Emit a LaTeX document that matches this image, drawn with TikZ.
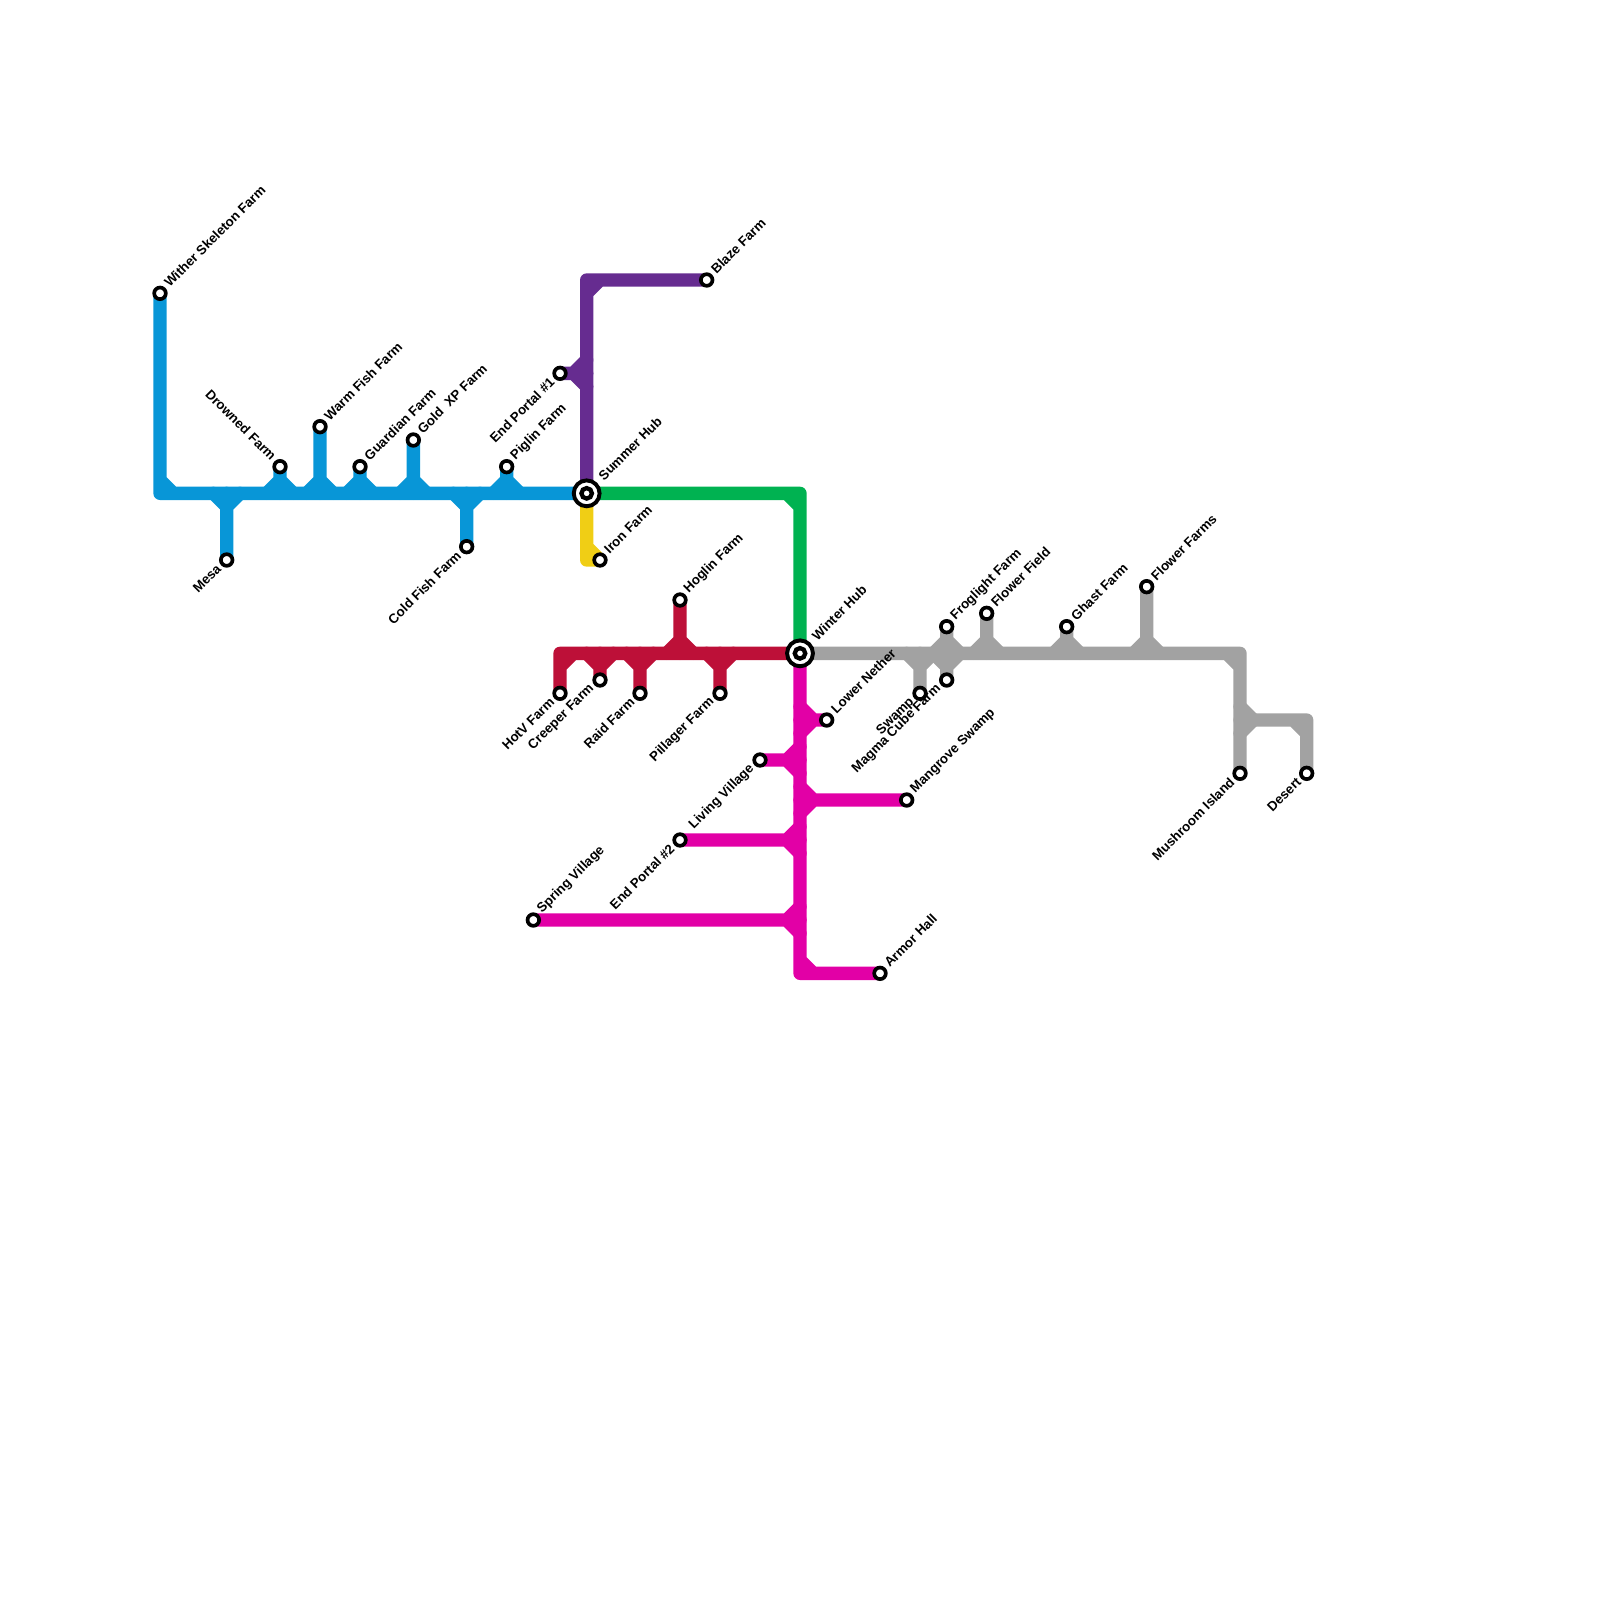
\documentclass[tikz,border=0pt]{standalone}
\usepackage{fontspec}
\setmainfont{Liberation Sans}
\usetikzlibrary{positioning, calc, backgrounds}
\definecolor{bluel}{HTML}{0896D7}
\definecolor{purplel}{HTML}{662C90}
\definecolor{greenl}{HTML}{00B251}
\definecolor{yellowl}{HTML}{F0CE15}
\definecolor{redl}{HTML}{BD1038}
\definecolor{magental}{HTML}{E200A6}
\definecolor{greyl}{HTML}{A2A2A2}
\tikzset{
  metro/.style={line width=0.25cm, line cap=round, line join=round},
  blueline/.style={metro, draw=bluel},
  purpleline/.style={metro, draw=purplel},
  greenline/.style={metro, draw=greenl},
  yellowline/.style={metro, draw=yellowl},
  redline/.style={metro, draw=redl},
  magline/.style={metro, draw=magental},
  greyline/.style={metro, draw=greyl},
  stn/.style={circle, draw=black, fill=white, line width=1.96pt, minimum size=6.2pt, inner sep=0pt},
  hubo/.style={circle, draw=black, fill=white, line width=2.1pt, minimum size=13.8pt, inner sep=0pt},
  hubi/.style={circle, draw=black, fill=white, line width=2.3pt, minimum size=5.6pt, inner sep=0pt},
  tag/.style={font=\fontsize{7.1}{8}\selectfont\bfseries, inner sep=0pt, text=black},
  tne/.style={tag, rotate=45, anchor=west, xshift=5.6pt, yshift=0.9pt},
  tsw/.style={tag, rotate=45, anchor=east, xshift=-5.3pt, yshift=0.5pt},
  tnw/.style={tag, rotate=-45, anchor=east, xshift=-5.4pt, yshift=1pt},
  thub/.style={tag, rotate=45, anchor=west, xshift=11pt, yshift=0.5pt}
}
\begin{document}
\begin{tikzpicture}[x=0.25cm, y=-0.25cm]
  \useasboundingbox (0,0) rectangle (120,120);
  % hubs
  \node (summer) [hubo] at (44,37) {};
  \node (summerin) [hubi] at (summer) {};
  \node (winter) [hubo] at (60,49) {};
  \node (winterin) [hubi] at (winter) {};
  \node (summert) [thub] at (summer) {Summer Hub};
  \node (wintert) [thub] at (winter) {Winter Hub};
  % blue
  \node (wither) [stn] at (12,22) {};
  \node (mesa) [stn] at (17,42) {};
  \node (drowned) [stn] at (21,35) {};
  \node (warm) [stn] at (24,32) {};
  \node (guardian) [stn] at (27,35) {};
  \node (gold) [stn] at (31,33) {};
  \node (coldfish) [stn] at (35,41) {};
  \node (piglin) [stn] at (38,35) {};
  \node (withert) [tne] at (wither) {Wither Skeleton Farm};
  \node (mesat) [tsw] at (mesa) {Mesa};
  \node (drownedt) [tnw] at (drowned) {Drowned Farm};
  \node (warmt) [tne] at (warm) {Warm Fish Farm};
  \node (guardiant) [tne] at (guardian) {Guardian Farm};
  \node (goldt) [tne] at (gold) {Gold\ \ XP Farm};
  \node (coldfisht) [tsw] at (coldfish) {Cold Fish Farm};
  \node (piglint) [tne] at (piglin) {Piglin Farm};
  % purple, yellow
  \node (blaze) [stn] at (53,21) {};
  \node (portala) [stn] at (42,28) {};
  \node (iron) [stn] at (45,42) {};
  \node (blazet) [tne] at (blaze) {Blaze Farm};
  \node (portalat) [tsw] at (portala) {End Portal \#1};
  \node (ironT) [tne] at (iron) {Iron Farm};
  % red
  \node (hotv) [stn] at (42,52) {};
  \node (creeper) [stn] at (45,51) {};
  \node (raid) [stn] at (48,52) {};
  \node (hoglin) [stn] at (51,45) {};
  \node (pillager) [stn] at (54,52) {};
  \node (hotvt) [tsw] at (hotv) {HotV Farm};
  \node (creepert) [tsw] at (creeper) {Creeper Farm};
  \node (raidt) [tsw] at (raid) {Raid Farm};
  \node (hoglint) [tne] at (hoglin) {Hoglin Farm};
  \node (pillagert) [tsw] at (pillager) {Pillager Farm};
  % magenta
  \node (nether) [stn] at (62,54) {};
  \node (living) [stn] at (57,57) {};
  \node (mangrove) [stn] at (68,60) {};
  \node (portalb) [stn] at (51,63) {};
  \node (spring) [stn] at (40,69) {};
  \node (armor) [stn] at (66,73) {};
  \node (nethert) [tne] at (nether) {Lower Nether};
  \node (livingt) [tsw] at (living) {Living Village};
  \node (mangrovet) [tne] at (mangrove) {Mangrove Swamp};
  \node (portalbt) [tsw] at (portalb) {End Portal \#2};
  \node (springt) [tne] at (spring) {Spring Village};
  \node (armort) [tne] at (armor) {Armor Hall};
  % grey
  \node (swamp) [stn] at (69,52) {};
  \node (magma) [stn] at (71,51) {};
  \node (froglight) [stn] at (71,47) {};
  \node (flowerf) [stn] at (74,46) {};
  \node (ghast) [stn] at (80,47) {};
  \node (flowers) [stn] at (86,44) {};
  \node (mushroom) [stn] at (93,58) {};
  \node (desert) [stn] at (98,58) {};
  \node (swampt) [tsw] at (swamp) {Swamp};
  \node (magmat) [tsw] at (magma) {Magma Cube Farm};
  \node (froglightt) [tne] at (froglight) {Froglight Farm};
  \node (flowerft) [tne] at (flowerf) {Flower Field};
  \node (ghastt) [tne] at (ghast) {Ghast Farm};
  \node (flowerst) [tne] at (flowers) {Flower Farms};
  \node (mushroomt) [tsw] at (mushroom) {Mushroom Island};
  \node (desertt) [tsw] at (desert) {Desert};
  % corners and junctions
  \coordinate (bluec) at (12,37);
  \coordinate (purplec) at (44,21);
  \coordinate (yellowc) at (44,42);
  \coordinate (greenc) at (60,37);
  \coordinate (redc) at (42,49);
  \coordinate (magc) at (60,73);
  \coordinate (greyc) at (93,49);
  \coordinate (greyd) at (98,54);
  \coordinate (greyj) at (93,54);
  \begin{scope}[on background layer]
    \draw [blueline] (wither.center) -- (bluec) -- (summer.center) (12,36) -- (13,37);
    \draw [blueline] (mesa.center) -- (mesa |- summer) (16,37) -- (17,38) -- (18,37);
    \draw [blueline] (drowned.center) -- (drowned |- summer) (20,37) -- (21,36) -- (22,37);
    \draw [blueline] (warm.center) -- (warm |- summer) (23,37) -- (24,36) -- (25,37);
    \draw [blueline] (guardian.center) -- (guardian |- summer) (26,37) -- (27,36) -- (28,37);
    \draw [blueline] (gold.center) -- (gold |- summer) (30,37) -- (31,36) -- (32,37);
    \draw [blueline] (coldfish.center) -- (coldfish |- summer) (34,37) -- (35,38) -- (36,37);
    \draw [blueline] (piglin.center) -- (piglin |- summer) (37,37) -- (38,36) -- (39,37);
    \draw [purpleline] (blaze.center) -- (purplec) -- (summer.center) (44,22) -- (45,21);
    \draw [purpleline] (portala.center) -- (portala -| summer) (44,27) -- (43,28) -- (44,29);
    \draw [greenline] (summer.center) -- (greenc) -- (winter.center) (59,37) -- (60,38);
    \draw [yellowline] (summer.center) -- (yellowc) -- (iron.center) (44,41) -- (45,42);
    \draw [redline] (hotv.center) -- (redc) -- (winter.center) (42,50) -- (43,49);
    \draw [redline] (creeper.center) -- (creeper |- winter) (44,49) -- (45,50) -- (46,49);
    \draw [redline] (raid.center) -- (raid |- winter) (47,49) -- (48,50) -- (49,49);
    \draw [redline] (hoglin.center) -- (hoglin |- winter) (50,49) -- (51,48) -- (52,49);
    \draw [redline] (pillager.center) -- (pillager |- winter) (53,49) -- (54,50) -- (55,49);
    \draw [magline] (winter.center) -- (magc) -- (armor.center) (60,72) -- (61,73);
    \draw [magline] (nether.center) -- (nether -| winter) (60,53) -- (61,54) -- (60,55);
    \draw [magline] (living.center) -- (living -| winter) (60,56) -- (59,57) -- (60,58);
    \draw [magline] (mangrove.center) -- (mangrove -| winter) (60,59) -- (61,60) -- (60,61);
    \draw [magline] (portalb.center) -- (portalb -| winter) (60,62) -- (59,63) -- (60,64);
    \draw [magline] (spring.center) -- (spring -| winter) (60,68) -- (59,69) -- (60,70);
    \draw [greyline] (winter.center) -- (greyc) -- (mushroom.center) (92,49) -- (93,50);
    \draw [greyline] (swamp.center) -- (swamp |- winter) (68,49) -- (69,50) -- (70,49);
    \draw [greyline] (magma.center) -- (magma |- winter) (70,49) -- (71,50) -- (72,49);
    \draw [greyline] (froglight.center) -- (froglight |- winter) (70,49) -- (71,48) -- (72,49);
    \draw [greyline] (flowerf.center) -- (flowerf |- winter) (73,49) -- (74,48) -- (75,49);
    \draw [greyline] (ghast.center) -- (ghast |- winter) (79,49) -- (80,48) -- (81,49);
    \draw [greyline] (flowers.center) -- (flowers |- winter) (85,49) -- (86,48) -- (87,49);
    \draw [greyline] (greyj) -- (greyd) -- (desert.center) (97,54) -- (98,55);
    \draw [greyline] (93,53) -- (94,54) -- (93,55);
  \end{scope}
\end{tikzpicture}
\end{document}
